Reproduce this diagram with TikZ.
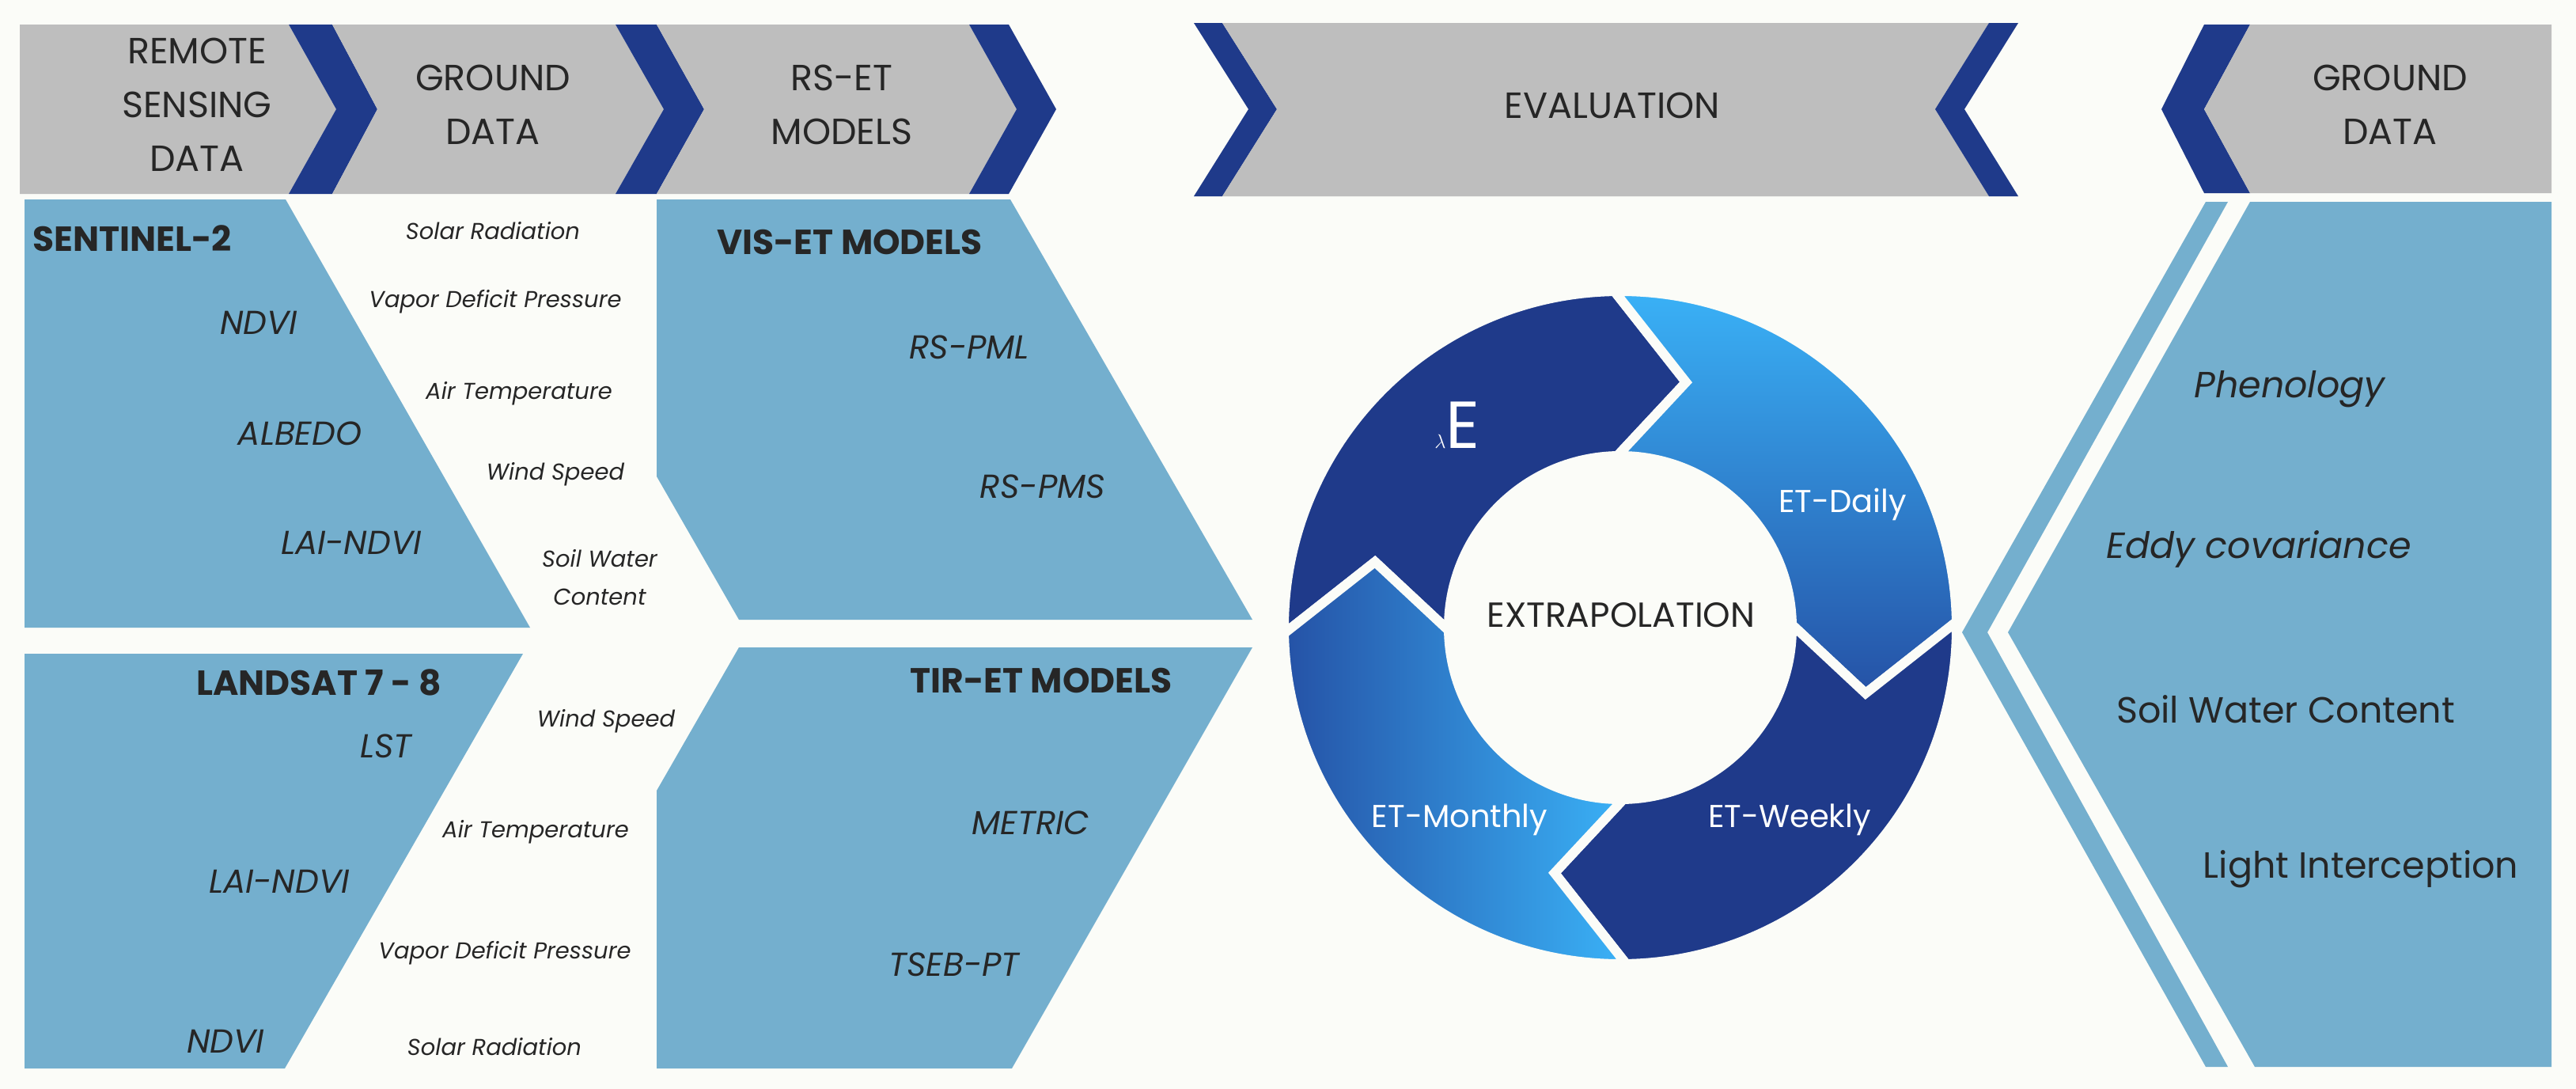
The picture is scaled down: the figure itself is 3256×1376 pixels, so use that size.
\documentclass[tikz,border=0pt]{standalone}
\usepackage{fontspec}
\setmainfont{Poppins}
\definecolor{bg}{HTML}{FBFCF8}
\definecolor{hgray}{HTML}{BEBEBE}
\definecolor{navy}{HTML}{1F3A8A}
\definecolor{pblue}{HTML}{74AFCE}
\definecolor{lblue}{HTML}{3AB2F7}
\definecolor{mblue}{HTML}{2552A6}
\begin{document}
\begin{tikzpicture}[x=1pt,y=-1pt,
  hd/.style={align=center,font=\fontsize{46}{68}\selectfont,text=black!85},
  bt/.style={font=\bfseries\fontsize{44}{50}\selectfont,text=black!85},
  it/.style={font=\itshape\fontsize{42}{48}\selectfont,text=black!85},
  sm/.style={font=\itshape\fontsize{29}{48}\selectfont,text=black!85,align=center},
  rt/.style={font=\fontsize{46}{52}\selectfont,text=black!85},
  wt/.style={font=\fontsize{40}{46}\selectfont,text=white},
  seg/.style={draw=bg,line width=12pt,line join=miter}]
\fill[bg] (0,0) rectangle (3256,1376);
\useasboundingbox (0,0) rectangle (3256,1376);
% header
\fill[hgray] (25,31)--(365,31)--(425,138)--(365,245)--(25,245)--cycle;
\fill[navy] (365,31)--(420,31)--(477,138)--(420,245)--(365,245)--(425,138)--cycle;
\fill[hgray] (420,31)--(778,31)--(839,138)--(778,245)--(420,245)--(477,138)--cycle;
\fill[navy] (778,31)--(830,31)--(890,138)--(830,245)--(778,245)--(839,138)--cycle;
\fill[hgray] (830,31)--(1225,31)--(1285,138)--(1225,245)--(830,245)--(890,138)--cycle;
\fill[navy] (1225,31)--(1275,31)--(1335,138)--(1275,245)--(1225,245)--(1285,138)--cycle;
\fill[navy] (1509,29)--(1545,29)--(1614,138)--(1545,248)--(1509,248)--(1578,138)--cycle;
\fill[hgray] (1545,29)--(2514,29)--(2446,138)--(2514,248)--(1545,248)--(1614,138)--cycle;
\fill[navy] (2514,29)--(2551,29)--(2483,138)--(2551,248)--(2514,248)--(2446,138)--cycle;
\fill[navy] (2786,31)--(2844,31)--(2786,138)--(2844,244)--(2786,244)--(2732,138)--cycle;
\fill[hgray] (2844,31)--(3225,31)--(3225,244)--(2844,244)--(2786,138)--cycle;
\node[hd] (h1) at (249,132) {REMOTE\\SENSING\\DATA};
\node[hd] (h2) at (623,132) {GROUND\\DATA};
\node[hd] (h3) at (1064,132) {RS-ET\\MODELS};
\node[hd] (h4) at (2038,133) {EVALUATION};
\node[hd] (h5) at (3021,132) {GROUND\\DATA};
% panels
\fill[pblue] (31,252)--(361,252)--(670,793)--(31,793)--cycle;
\fill[pblue] (31,826)--(661,826)--(360,1350)--(31,1350)--cycle;
\fill[pblue] (830,252)--(1277,252)--(1583,783)--(934,783)--(830,602)--cycle;
\fill[pblue] (934,818)--(1583,818)--(1279,1350)--(830,1350)--(830,999)--cycle;
\fill[pblue] (2788,255)--(2816,255)--(2512,799)--(2816,1348)--(2788,1348)--(2480,799)--cycle;
\fill[pblue] (2844,255)--(3225,255)--(3225,1348)--(2850,1348)--(2538,799)--cycle;
% left texts
\node[bt,anchor=west] (s2) at (38,301) {SENTINEL-2};
\node[it] (n1) at (327,408) {NDVI};
\node[it] (al) at (379,548) {ALBEDO};
\node[it] (ln1) at (444,686) {LAI-NDVI};
\node[sm] (g1) at (623,292) {Solar Radiation};
\node[sm] (g2) at (626,381) {Vapor Deficit Pressure};
\node[sm] (g3) at (656,497) {Air Temperature};
\node[sm] (g4) at (702,599) {Wind Speed};
\node[sm] (g5) at (758,730) {Soil Water\\Content};
\node[bt] (vis) at (1074,306) {VIS-ET MODELS};
\node[it] (pml) at (1225,439) {RS-PML};
\node[it] (pms) at (1318,615) {RS-PMS};
\node[bt] (ls) at (403,862) {LANDSAT 7 - 8};
\node[it] (lst) at (488,943) {LST};
\node[it] (ln2) at (353,1114) {LAI-NDVI};
\node[it] (n2) at (285,1316) {NDVI};
\node[sm] (b1) at (766,911) {Wind Speed};
\node[sm] (b2) at (677,1051) {Air Temperature};
\node[sm] (b3) at (638,1204) {Vapor Deficit Pressure};
\node[sm] (b4) at (625,1323) {Solar Radiation};
\node[bt] (tir) at (1316,860) {TIR-ET MODELS};
\node[it] (met) at (1303,1040) {METRIC};
\node[it] (tseb) at (1206,1219) {TSEB-PT};
% right texts
\node[rt,font=\itshape\fontsize{46}{52}\selectfont] (ph) at (2894,492) {Phenology};
\node[rt,font=\itshape\fontsize{46}{52}\selectfont] (ed) at (2855,694) {Eddy covariance};
\node[rt] (sw) at (2889,896) {Soil Water Content};
\node[rt] (li) at (2984,1098) {Light Interception};
% ring
\begin{scope}[shift={(2048,793)}]
\path[seg,fill=navy] (181:425pt) arc[start angle=181,end angle=91,radius=425pt] -- (75:321pt) -- (91:217pt) arc[start angle=91,end angle=181,radius=217pt] -- (165:321pt) -- cycle;
\path[seg,top color=lblue,bottom color=mblue] (91:425pt) arc[start angle=91,end angle=1,radius=425pt] -- (-15:321pt) -- (1:217pt) arc[start angle=1,end angle=91,radius=217pt] -- (75:321pt) -- cycle;
\path[seg,fill=navy] (1:425pt) arc[start angle=1,end angle=-89,radius=425pt] -- (-105:321pt) -- (-89:217pt) arc[start angle=-89,end angle=1,radius=217pt] -- (-15:321pt) -- cycle;
\path[seg,left color=mblue,right color=lblue] (-89:425pt) arc[start angle=-89,end angle=-179,radius=425pt] -- (165:321pt) -- (-179:217pt) arc[start angle=-179,end angle=-89,radius=217pt] -- (-105:321pt) -- cycle;
\end{scope}
\node[text=white,font=\fontsize{84}{90}\selectfont] (le) at (1842,537) {$\lambda$E};
\node[wt] (d) at (2329,637) {ET-Daily};
\node[wt] (w) at (2262,1036) {ET-Weekly};
\node[wt] (m) at (1845,1036) {ET-Monthly};
\node[font=\fontsize{44}{50}\selectfont,text=black!85] (ex) at (2049,777) {EXTRAPOLATION};
\end{tikzpicture}
\end{document}
